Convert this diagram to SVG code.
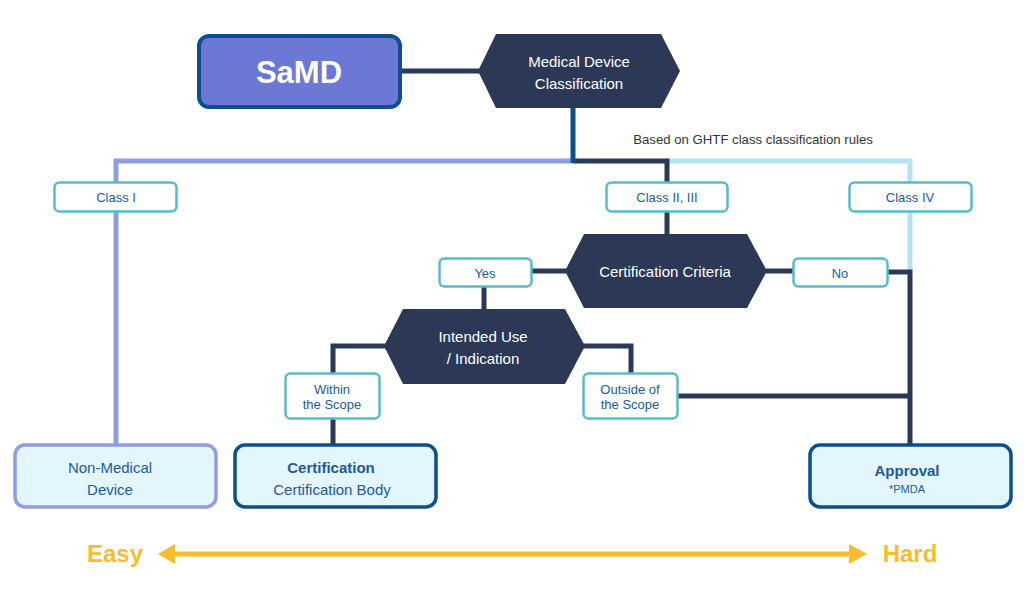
<svg xmlns="http://www.w3.org/2000/svg" width="1024" height="591" viewBox="0 0 1024 591">
<style>
text{font-family:"Liberation Sans",Arial,sans-serif;text-anchor:middle;dominant-baseline:central}
.hex{fill:#2b3856}
.ht{fill:#ffffff;font-size:15px}
.lbl{fill:#ffffff;stroke:#55bccb;stroke-width:2.5}
.lt{fill:#1d5a9a;font-size:13px}
.res{fill:#e3f6fe;stroke-width:3.5}
.rt{fill:#1d5a9a;font-size:15px}
.dk{fill:none;stroke:#2b3856;stroke-width:5}
.gold{fill:#f7bc30}
</style>
<g id="connectors">
<line x1="400" y1="71" x2="480" y2="71" class="dk"/>
<polyline points="116,444 116,161 573,161" fill="none" stroke="#8f9de2" stroke-width="5"/>
<polyline points="910,270 910,161 667,161" fill="none" stroke="#b2e4f4" stroke-width="5"/>
<polyline points="573,161 667,161 667,236" class="dk"/>
<line x1="573" y1="108" x2="573" y2="163" stroke="#0b4f8e" stroke-width="5"/>
<line x1="532" y1="271" x2="567" y2="271" class="dk"/>
<line x1="766" y1="271" x2="794" y2="271" class="dk"/>
<polyline points="887,272 910,272 910,444" class="dk"/>
<line x1="484" y1="286" x2="484" y2="310" class="dk"/>
<polyline points="386,346 333,346 333,374" class="dk"/>
<polyline points="583,346 631,346 631,374" class="dk"/>
<line x1="333" y1="418" x2="333" y2="445" class="dk"/>
<line x1="677" y1="396" x2="910" y2="396" class="dk"/>
<line x1="172" y1="554" x2="852" y2="554" stroke="#f7bc30" stroke-width="5"/>
<polygon class="gold" points="158,554 175,544 175,564"/>
<polygon class="gold" points="867,554 849,544 849,564"/>
</g>
<g id="samd">
<rect x="199" y="36" width="201" height="71" rx="10" fill="#6b78d4" stroke="#0b4f8e" stroke-width="4"/>
<text x="299" y="72" fill="#ffffff" font-size="31" font-weight="bold">SaMD</text>
</g>
<g id="mdc">
<polygon class="hex" points="478,71 496,34 661,34 680,71 661,108 496,108"/>
<text class="ht" x="579" y="61">Medical Device</text>
<text class="ht" x="579" y="83">Classification</text>
</g>
<g id="ghtf"><text x="753" y="139" fill="#333333" font-size="13.2">Based on GHTF class classification rules</text></g>
<g id="class1"><rect class="lbl" x="54.5" y="182.5" width="122" height="29" rx="5"/><text class="lt" x="116" y="197">Class I</text></g>
<g id="class23"><rect class="lbl" x="606.5" y="182.5" width="121" height="29" rx="5"/><text class="lt" x="667" y="197">Class II, III</text></g>
<g id="class4"><rect class="lbl" x="849.5" y="182.5" width="122" height="29" rx="5"/><text class="lt" x="910" y="197">Class IV</text></g>
<g id="certcrit">
<polygon class="hex" points="565,271 584,234 747,234 767,271 747,308 584,308"/>
<text class="ht" x="665" y="271" font-size="15.5">Certification Criteria</text>
</g>
<g id="yes"><rect class="lbl" x="439.5" y="258.5" width="92" height="28" rx="5"/><text class="lt" x="485" y="273">Yes</text></g>
<g id="no"><rect class="lbl" x="793.5" y="258.5" width="94" height="28" rx="5"/><text class="lt" x="840" y="273">No</text></g>
<g id="intended">
<polygon class="hex" points="384,346 403,309 565,309 585,346 565,384 403,384"/>
<text class="ht" x="483" y="336">Intended Use</text>
<text class="ht" x="483" y="358">/ Indication</text>
</g>
<g id="within"><rect class="lbl" x="285.5" y="373.5" width="94" height="45" rx="5"/><text class="lt" x="332" y="389">Within</text><text class="lt" x="332" y="404">the Scope</text></g>
<g id="outside"><rect class="lbl" x="583.5" y="373.5" width="94" height="45" rx="5"/><text class="lt" x="630" y="389">Outside of</text><text class="lt" x="630" y="404">the Scope</text></g>
<g id="nonmedical"><rect class="res" x="15" y="445" width="201" height="62" rx="10" stroke="#8f9de2"/><text class="rt" x="110" y="467">Non-Medical</text><text class="rt" x="110" y="489">Device</text></g>
<g id="certification"><rect class="res" x="235" y="445" width="201" height="62" rx="10" stroke="#0b4f8e"/><text class="rt" x="331" y="467" font-weight="bold" fill="#164f8a">Certification</text><text class="rt" x="332" y="489">Certification Body</text></g>
<g id="approval"><rect class="res" x="810" y="445" width="201" height="62" rx="10" stroke="#0b4f8e"/><text class="rt" x="907" y="470" font-weight="bold" fill="#164f8a">Approval</text><text x="907" y="489" fill="#1d5a9a" font-size="11">*PMDA</text></g>
<g id="scale">
<text x="115" y="553" class="gold" font-size="24" font-weight="bold">Easy</text>
<text x="910" y="553" class="gold" font-size="24" font-weight="bold">Hard</text>
</g>
</svg>
